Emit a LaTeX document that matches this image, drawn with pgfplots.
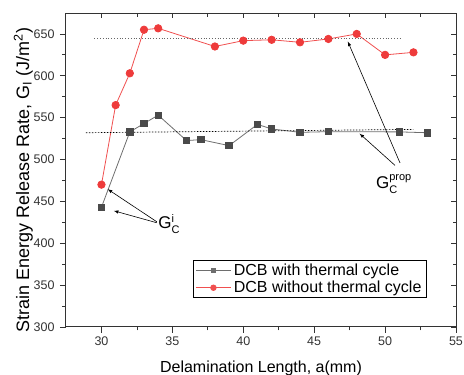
\documentclass[border=0pt]{standalone}
\usepackage{pgfplots}
\pgfplotsset{compat=1.18}
\usepackage{fontspec}
\setmainfont{Liberation Sans}
\definecolor{rd}{HTML}{EE3B3B}
\definecolor{gy}{HTML}{4A4A4A}
\definecolor{ax}{HTML}{333333}
\newcommand{\GC}[1]{G\raisebox{-5pt}{\fontsize{11}{12.6}\selectfont\shortstack[l]{#1\\C}}}
\begin{document}
\begin{tikzpicture}
\path[use as bounding box] (-66pt,-48pt) rectangle (398pt,327pt);
\begin{axis}[
  at={(0pt,0pt)}, anchor=south west,
  scale only axis, width=390pt, height=314pt,
  xmin=27.5, xmax=55, ymin=300, ymax=675,
  xtick={30,35,...,55}, ytick={300,350,...,650},
  minor x tick num=1, minor y tick num=1,
  xtick pos=left, ytick pos=left, tick align=outside,
  major tick length=6pt, minor tick length=3.5pt,
  axis line style={ax, line width=1pt},
  every tick/.style={ax, line width=0.8pt},
  /pgf/number format/assume math mode=true,
  ticklabel style={font=\fontsize{12.5}{14}\selectfont, text=ax},
  yticklabel style={xshift=-2pt},
  xlabel={\fontsize{16}{18}\selectfont Delamination Length, a(mm)},
  ylabel={\fontsize{18}{20}\selectfont Strain Energy Release Rate, G\textsubscript{I} (J/m\textsuperscript{2})},
  xlabel style={yshift=-9pt},
  ylabel style={yshift=-6pt, xshift=-10pt},
  legend style={at={(0.326,0.2134)}, anchor=north west, font=\fontsize{16}{17}\selectfont,
    draw=black, line width=0.8pt, inner xsep=2pt, inner ysep=2pt, row sep=1.2pt,
    nodes={inner ysep=1.5pt, inner xsep=2.5pt}},
  legend cell align=left,
  legend image code/.code={\draw[mark repeat=2,mark phase=2, mark options={scale=0.75}] plot coordinates {(0pt,0pt)(17.5pt,0pt)(35pt,0pt)};},
]
\addplot[gy!80, line width=0.8pt, mark=square*, mark size=3.2pt, mark options={fill=gy, draw=gy, solid}] coordinates {
(30,443) (32,533) (33,543) (34,553) (36,522.6) (37,523.8) (39,516.6) (41,542) (42,536.5) (44,532.5) (46,533.3) (51,533) (53,532)
};
\addlegendentry{DCB with thermal cycle}
\addplot[rd!90, line width=0.8pt, mark=*, mark size=3.7pt, mark options={fill=rd, draw=rd, solid}] coordinates {
(30,470) (31,565) (32,603) (33,655) (34,656.7) (38,635) (40,642) (42,643) (44,640) (46,644) (48,650) (50,625) (52,628)
};
\addlegendentry{DCB without thermal cycle}
\addplot[black!60, dotted, line width=0.8pt, forget plot] coordinates {(29.5,645) (51.2,645)};
\addplot[black, dash pattern=on 1.5pt off 1.5pt, line width=0.7pt, forget plot] coordinates {(28.9,532) (52,536)};
\draw[-latex, line width=0.6pt] (axis cs:51.05,496) -- (axis cs:47.37,641);
\draw[-latex, line width=0.6pt] (axis cs:50.7,493) -- (axis cs:48.2,531);
\draw[-latex, line width=0.6pt] (axis cs:33.9,425.7) -- (axis cs:30.44,464.6);
\draw[-latex, line width=0.6pt] (axis cs:33.9,424.5) -- (axis cs:30.87,438.8);
\node[font=\fontsize{17}{18}\selectfont, inner sep=0pt, anchor=west] at (axis cs:49.35,471) {\GC{prop}};
\node[font=\fontsize{17}{18}\selectfont, inner sep=0pt, anchor=west] at (axis cs:34.0,423) {\GC{i}};
\end{axis}
\begin{axis}[
  at={(0pt,0pt)}, anchor=south west,
  scale only axis, width=390pt, height=314pt,
  xmin=27.5, xmax=55, ymin=300, ymax=675,
  xtick={30,35,...,55}, ytick={300,350,...,650},
  minor x tick num=1, minor y tick num=1,
  xtick pos=right, ytick pos=right, tick align=inside,
  major tick length=5pt, minor tick length=3.5pt,
  axis line style={draw=none},
  every tick/.style={ax, line width=0.8pt},
  xticklabels={}, yticklabels={},
]
\end{axis}
\end{tikzpicture}
\end{document}
